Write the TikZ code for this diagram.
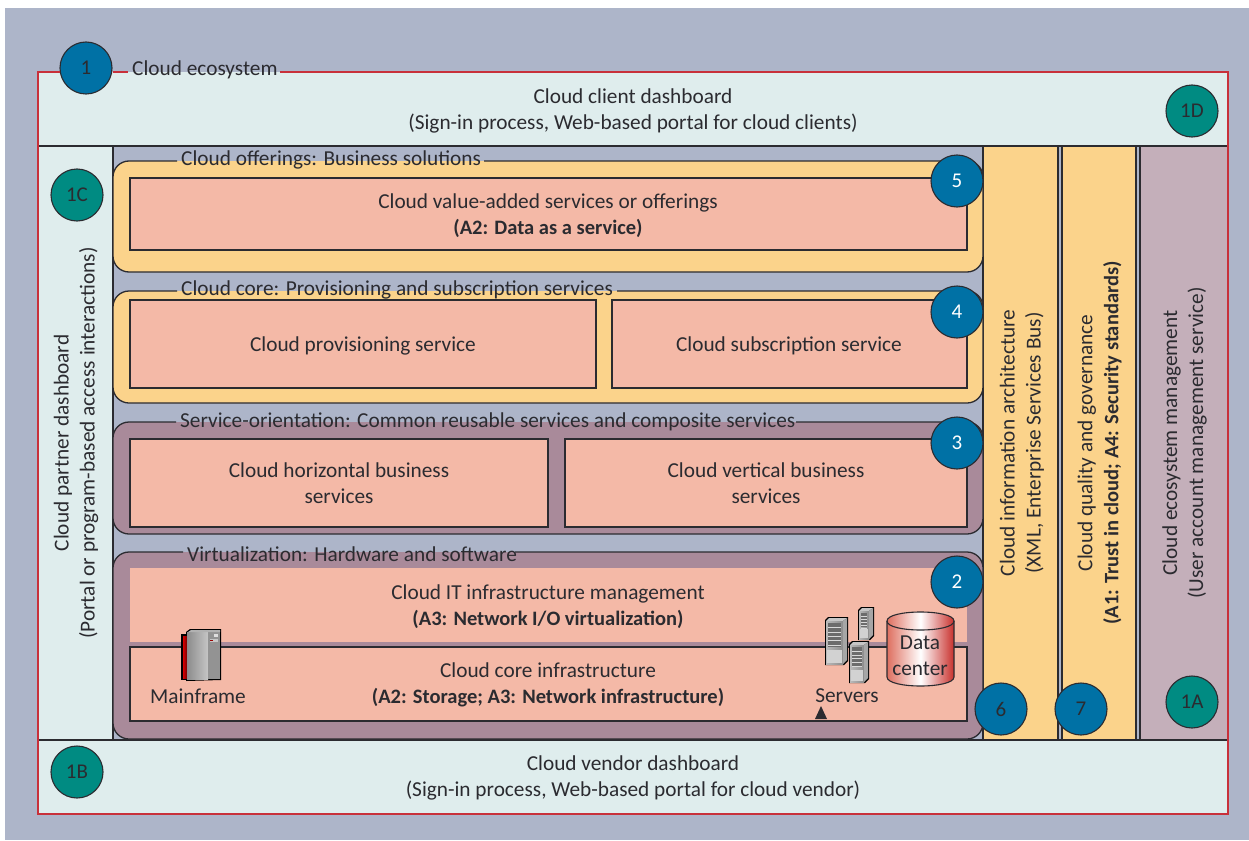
\documentclass[tikz,border=0pt]{standalone}
\usepackage{fontspec}
\setmainfont{Carlito}
\definecolor{bgc}{HTML}{ADB5C9}
\definecolor{lightp}{HTML}{DFEDED}
\definecolor{orangep}{HTML}{FBD38B}
\definecolor{salmon}{HTML}{F4B9A7}
\definecolor{mauve}{HTML}{A98A9A}
\definecolor{mauvel}{HTML}{C4AFBA}
\definecolor{blueb}{HTML}{0071A5}
\definecolor{tealb}{HTML}{008B82}
\definecolor{redl}{HTML}{C8303A}
\definecolor{ink}{HTML}{2B2B30}
\definecolor{cylL}{HTML}{DE6F5F}
\definecolor{cylR}{HTML}{C8302C}
\newcommand{\bt}[1]{{\fontsize{20.5}{26}\selectfont\bfseries #1}}
\tikzset{
  lbl/.style={text=ink,align=center,font=\fontsize{21.3}{26}\selectfont,inner sep=0pt},
  col/.style={draw=ink,line width=1.2pt},
  inbox/.style={col,fill=salmon},
  numb/.style={circle,draw=ink,line width=1.1pt,minimum size=52pt,inner sep=0pt,text=ink,font=\fontsize{21}{24}\selectfont},
  numw/.style={numb,fill=blueb,text=white},
  numk/.style={numb,fill=blueb},
  numt/.style={numb,fill=tealb},
  edge/.style={draw=ink,line width=1.3pt},
}
\newcommand{\rackunit}[4]{% x y w h
  \begin{scope}[shift={(#1,#2)}]
    \fill[black] (0,3) -- (3,0) -- (#3,0) -- (#3,#4-4) -- (#3-4,#4) -- (0,#4) -- cycle;
    \fill[gray!45] (1,4) -- (4,1) -- (#3-1,1) -- (#3-5,4) -- cycle;
    \shade[left color=gray!55,right color=gray!90] (1,4) rectangle (#3-5,#4-1);
    \fill[gray!70] (#3-5,4) -- (#3-1,1) -- (#3-1,#4-5) -- (#3-5,#4-1) -- cycle;
    \fill[gray!85!black] (3,6) rectangle (#3-7,#4*0.62);
    \foreach \k in {1,2,3,4,5} \fill[gray!30] (3,6+\k*#4*0.09) rectangle (#3-7,6+\k*#4*0.09+0.8);
    \fill[gray!35] (2,#4*0.68) rectangle (#3-6,#4-2);
  \end{scope}}
\begin{document}
\begin{tikzpicture}[x=1pt,y=-1pt]
\useasboundingbox (0,0) rectangle (1249,840);
\fill[white] (0,0) rectangle (1249,840);
\fill[bgc] (5,8) rectangle (1249,840);
% frame
\path[fill=lightp] (38,72) rectangle (1228,814);
\path[fill=bgc] (113,146) rectangle (983,740);
\path[fill=orangep] (983,146) rectangle (1058,740);
\path[fill=bgc] (1058,146) rectangle (1140,740);
\path[fill=orangep] (1062,146) rectangle (1136,740);
\path[fill=mauvel] (1140,146) rectangle (1228,740);
\draw[col] (38,146) -- (1228,146);
\draw[col] (38,740) -- (1228,740);
\draw[col] (113,146) -- (113,740);
\draw[col] (983,146) -- (983,740);
\draw[col] (1058,146) -- (1058,740);
\draw[col] (1062,146) -- (1062,740);
\draw[col] (1136,146) -- (1136,740);
\draw[col] (1140,146) -- (1140,740);
% offerings
\fill[orangep,rounded corners=16pt] (113,161) rectangle (983,272);
\draw[edge,rounded corners=16pt] (484,161) -- (983,161) -- (983,272) -- (113,272) -- (113,161) -- (177,161);
\draw[inbox] (130,178) rectangle (967,250);
\node[lbl] (off) at (548,215.5) {Cloud value-added services or offerings\\\bt{(A2: Data as a service)}};
% core
\fill[orangep,rounded corners=16pt] (113,291) rectangle (983,403);
\draw[edge,rounded corners=16pt] (617,291) -- (983,291) -- (983,403) -- (113,403) -- (113,291) -- (177,291);
\draw[inbox] (130,300) rectangle (596,388);
\draw[inbox] (612,300) rectangle (967,388);
\node[lbl] (prov) at (363,346) {Cloud provisioning service};
\node[lbl] (sub) at (789,346) {Cloud subscription service};
% service
\fill[mauve,rounded corners=16pt] (113,422) rectangle (983,534);
\draw[edge,rounded corners=16pt] (796,422) -- (983,422) -- (983,534) -- (113,534) -- (113,422) -- (176,422);
\draw[inbox] (130,439) rectangle (548,527);
\draw[inbox] (565,439) rectangle (967,527);
\node[lbl] (horiz) at (339,483) {Cloud horizontal business\\services};
\node[lbl] (vert) at (766,483) {Cloud vertical business\\services};
% virtualization
\fill[mauve,rounded corners=16pt] (113,552) rectangle (983,739);
\draw[edge,rounded corners=16pt] (515,552) -- (983,552) -- (983,739) -- (113,739) -- (113,552) -- (183,552);
\fill[salmon] (130,568) rectangle (967,642);
\draw[inbox] (130,647) rectangle (967,721);
\node[lbl] (mgmt) at (548,607) {Cloud IT infrastructure management\\\bt{(A3: Network I/O virtualization)}};
\node[lbl] (coreinf) at (548,685) {Cloud core infrastructure\\\bt{(A2: Storage; A3: Network infrastructure)}};
% titles
\node[lbl,anchor=west] (t1) at (132,70) {Cloud ecosystem};
\node[lbl,anchor=west] (t5) at (181,160) {Cloud offerings: Business solutions};
\node[lbl,anchor=west] (t4) at (181,290) {Cloud core: Provisioning and subscription services};
\node[lbl,anchor=west] (t3) at (180,422) {Service-orientation: Common reusable services and composite services};
\node[lbl,anchor=west] (t2) at (187,554) {Virtualization: Hardware and software};
% dashboards
\node[lbl] (client) at (633,111) {Cloud client dashboard\\(Sign-in process, Web-based portal for cloud clients)};
\node[lbl] (vendor) at (633,778) {Cloud vendor dashboard\\(Sign-in process, Web-based portal for cloud vendor)};
\node[lbl,rotate=90] (partner) at (76,443) {Cloud partner dashboard\\(Portal or program-based access interactions)};
\node[lbl,rotate=90] (info) at (1022,443) {Cloud information architecture\\(XML, Enterprise Services Bus)};
\node[lbl,rotate=90] (qual) at (1099.5,443) {Cloud quality and governance\\\bt{(A1: Trust in cloud; A4: Security standards)}};
\node[lbl,rotate=90] (eco) at (1184.5,443) {Cloud ecosystem management\\(User account management service)};
% mainframe
\fill[black] (181,634) rectangle (187,680);
\fill[black] (186,632) -- (190,629) -- (221,629) -- (221,680) -- (186,681) -- cycle;
\shade[left color=red!85!black,right color=red!45!black] (183,636) rectangle (187,678);
\shade[left color=gray!90,right color=gray!45] (187,632) rectangle (208,679);
\fill[gray!85] (208,632) rectangle (220,679);
\fill[gray!25] (214,634) rectangle (218,637);
\fill[gray!45] (210,639) rectangle (218,642);
\fill[red!60!black] (210,640) rectangle (213,641);
\fill[gray!60] (188,632) -- (191,630) -- (220,630) -- (220,632) -- cycle;
\node[lbl] (mframe) at (198,696) {Mainframe};
% servers
\rackunit{825}{617}{23}{48}
\rackunit{858}{607}{16}{33}
\rackunit{849}{641}{20}{42}
\node[lbl] (serv) at (847,696) {Servers};
\fill[ink] (815,719) -- (827,719) -- (821,706) -- cycle;
% cylinder
\shade[left color=cylL,right color=cylR,middle color=white,draw=ink,line width=1.1pt]
  (887,621) -- (887,677) .. controls (887,689) and (954,689) .. (954,677) -- (954,621) .. controls (954,609) and (887,609) .. (887,621) -- cycle;
\draw[ink,line width=1.1pt] (887,621) .. controls (887,633) and (954,633) .. (954,621);
\node[lbl] (dc) at (920,656) {Data\\center};
% numbers
\node[numk] (n1) at (86,68) {1};
\node[numt] (n1C) at (77,195) {1C};
\node[numt] (n1D) at (1192,111) {1D};
\node[numt] (n1A) at (1192,702) {1A};
\node[numt] (n1B) at (77,772) {1B};
\node[numw] (n5) at (957,181) {5};
\node[numw] (n4) at (957,312) {4};
\node[numw] (n3) at (957,443) {3};
\node[numw] (n2) at (957,582) {2};
\node[numk] (n6) at (1001,709) {6};
\node[numk] (n7) at (1081,709) {7};
% red frame
\draw[redl,line width=2pt] (60,72) -- (38,72) -- (38,814) -- (1228,814) -- (1228,72) -- (280,72);
\draw[redl,line width=2pt] (113,72) -- (128,72);
\end{tikzpicture}
\end{document}
